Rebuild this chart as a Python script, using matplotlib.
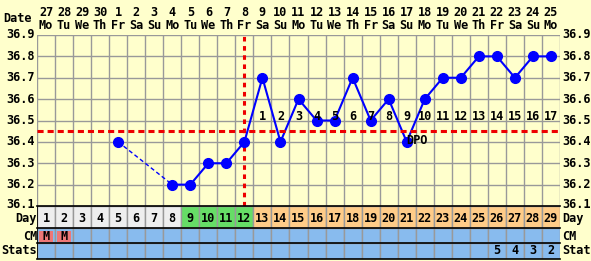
import numpy as np
import matplotlib
matplotlib.use("Agg")
import matplotlib.pyplot as plt
from matplotlib.patches import Rectangle

# chart data
dates = [27, 28, 29, 30, 1, 2, 3, 4, 5, 6, 7, 8, 9, 10, 11, 12, 13, 14, 15, 16, 17, 18, 19, 20, 21, 22, 23, 24, 25]
weekdays = ["Mo", "Tu", "We", "Th", "Fr", "Sa", "Su", "Mo", "Tu", "We", "Th", "Fr", "Sa", "Su", "Mo",
            "Tu", "We", "Th", "Fr", "Sa", "Su", "Mo", "Tu", "We", "Th", "Fr", "Sa", "Su", "Mo"]
days = list(range(1, 30))
temps = [None, None, None, None, 36.4, None, None, 36.2, 36.2, 36.3, 36.3, 36.4, 36.7, 36.4, 36.6,
         36.5, 36.5, 36.7, 36.5, 36.6, 36.4, 36.6, 36.7, 36.7, 36.8, 36.8, 36.7, 36.8, 36.8]
coverline = 36.45
ovulation_day = 12
dpo_days = list(range(13, 30))
dpo_labels = [str(i) for i in range(1, 18)]
cm_marks = {1: "M", 2: "M"}
stats = {26: "5", 27: "4", 28: "3", 29: "2"}
yticks = [36.1, 36.2, 36.3, 36.4, 36.5, 36.6, 36.7, 36.8, 36.9]

W, H = 591, 261
fig = plt.figure(figsize=(W / 100, H / 100), dpi=100)
fig.patch.set_facecolor("#ffffcc")

font = dict(family="DejaVu Sans Mono", fontweight="bold", fontsize=8.6)
bg = "#ffffcc"
grid = "#999999"

def fx(px):
    return px / W

def fy(py):
    return 1 - py / H

x0, x1 = 37, 560
ax = fig.add_axes([fx(x0), fy(206), fx(x1 - x0), fy(35) - fy(206)])
ax.set_facecolor(bg)
ax.set_xlim(0.5, 29.5)
ax.set_ylim(36.1, 36.9)
ax.set_xticks([])
ax.set_yticks([])
for s in ax.spines.values():
    s.set_visible(False)

for k in range(30):
    ax.axvline(k + 0.5, color=grid, lw=1)
for t in yticks:
    ax.axhline(t, color=grid, lw=1)

# temperature line
pts = [(d, t) for d, t in zip(days, temps) if t is not None]
pd_, pt_ = zip(*pts)
ax.plot(pd_[:2], pt_[:2], color="#0000ff", lw=1, ls=(0, (3, 2)))
ax.plot(pd_[1:], pt_[1:], color="#0000ff", lw=1.5)
ax.plot(pd_, pt_, "o", color="#0000ff", ms=7, zorder=5)

ax.axhline(coverline, color="#ee0000", lw=2.2, ls=(0, (2, 1.3)), zorder=4)
ax.axvline(ovulation_day, color="#ee0000", lw=2.2, ls=(0, (1.5, 1.5)), zorder=4)

for d, lab in zip(dpo_days, dpo_labels):
    ax.text(d, 36.49, lab, ha="center", va="bottom", zorder=6, **font)
ax.text(21.0, 36.405, "DPO", ha="left", va="center", zorder=6, **font)

# header dates
tr = ax.get_xaxis_transform()
for d, dt, wd in zip(days, dates, weekdays):
    ax.text(d, 1 + 23 / 171, str(dt), transform=tr, ha="center", va="center", clip_on=False, **font)
    ax.text(d, 1 + 10 / 171, wd, transform=tr, ha="center", va="center", clip_on=False, **font)
fig.text(fx(18), fy(18), "Date", ha="center", va="center", **font)

for t in yticks:
    ypix = ax.transData.transform((0, t))[1] / H
    if t == yticks[0]:
        ypix += 2 / H
    fig.text(fx(35), ypix, f"{t:.1f}", ha="right", va="center", **font)
    fig.text(fx(562), ypix, f"{t:.1f}", ha="left", va="center", **font)

# table rows
tb = fig.add_axes([fx(x0), fy(259), fx(x1 - x0), fy(206) - fy(259)])
tb.set_xlim(0.5, 29.5)
tb.set_ylim(0, 53)
tb.axis("off")
for d in days:
    if d <= 8:
        c = "#eeeeee"
    elif d <= 12:
        c = "#66dd66"
    else:
        c = "#ffcc88"
    tb.add_patch(Rectangle((d - 0.5, 31), 1, 22, fc=c, ec=grid, lw=1))
    tb.text(d, 41, str(d), ha="center", va="center", **font)
    tb.add_patch(Rectangle((d - 0.5, 16), 1, 15, fc="#88bbee", ec=grid, lw=1))
    tb.add_patch(Rectangle((d - 0.5, 0), 1, 16, fc="#88bbee", ec=grid, lw=1))
for d, m in cm_marks.items():
    tb.add_patch(Rectangle((d - 0.4, 17.5), 0.8, 11, fc="#ee7777", ec="none"))
    tb.text(d, 23, m, ha="center", va="center", **font)
for d, s in stats.items():
    tb.text(d, 8, s, ha="center", va="center", **font)
for yy in [0, 16, 31, 53]:
    tb.plot([0.5, 29.5], [yy, yy], color="#000000", lw=1.2, clip_on=False)
tb.plot([0.5, 0.5], [0, 53], color="#000000", lw=1.2)

for label, yc in [("Day", 40.5), ("CM", 23), ("Stats", 8)]:
    tb.text(0.5, yc, label, ha="right", va="center", clip_on=False, **font)
for label, yc in [("Day", 40.5), ("CM", 23), ("Stat", 8)]:
    fig.text(fx(562), tb.transData.transform((0, yc))[1] / H, label, ha="left", va="center", **font)

fig.savefig("out.png", dpi=100, facecolor=fig.get_facecolor())
